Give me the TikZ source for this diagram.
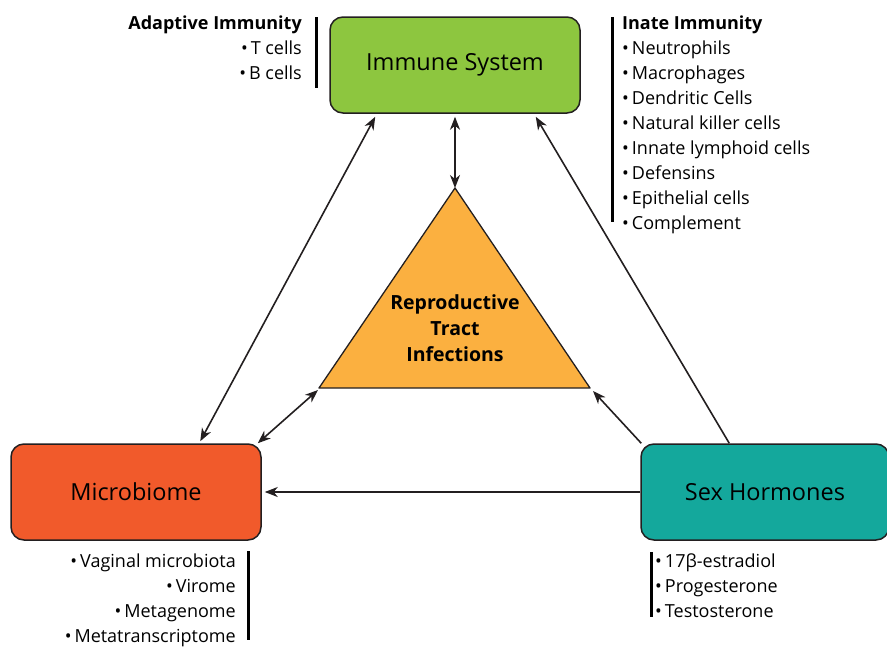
\documentclass[tikz,border=0pt]{standalone}
\usepackage{fontspec}
\setmainfont{Open Sans}
\usetikzlibrary{arrows.meta,calc}
\definecolor{immgreen}{HTML}{8DC63F}
\definecolor{microred}{HTML}{F15A2B}
\definecolor{hormteal}{HTML}{14A89C}
\definecolor{trior}{HTML}{FBB040}
\definecolor{edge}{HTML}{231F20}
\tikzset{
  mainbox/.style={draw=edge, line width=1.5pt, rounded corners=13pt, minimum width=250pt, minimum height=96pt, inner sep=0pt, font=\fontsize{23.5}{28}\selectfont},
  conn/.style={draw=edge, line width=1.6pt},
  tip/.style={-{Stealth[length=13pt,width=10pt,inset=4pt]}},
  bothtip/.style={{Stealth[length=13pt,width=10pt,inset=4pt]}-{Stealth[length=13pt,width=10pt,inset=4pt]}},
  listtext/.style={inner sep=0pt, font=\fontsize{18}{25}\selectfont},
  bar/.style={draw=black, line width=3pt}
}
\newcommand{\bul}{•\,}
\begin{document}
\begin{tikzpicture}[x=1pt,y=-1pt]
\useasboundingbox (0,0) rectangle (887,646);
% boxes
\node[mainbox, fill=immgreen] (imm) at (455,65) {Immune System};
\node[mainbox, fill=microred] (mic) at (136,492) {Microbiome};
\node[mainbox, fill=hormteal, minimum width=248pt] (hor) at (765,492) {Sex Hormones};
% triangle
\coordinate (tA) at (455,188);
\coordinate (tL) at (319,388);
\coordinate (tR) at (590,388);
\draw[draw=edge, line width=1.3pt, fill=trior, line join=round] (tA) -- (tL) -- (tR) -- cycle;
\node[inner sep=0pt, align=center, font=\fontsize{19.5}{26}\selectfont\bfseries] (rti) at (455,328) {Reproductive\\Tract\\Infections};
% connectors
\coordinate (immA) at ($(imm.south west)+(46,3)$);
\coordinate (micA) at ($(mic.north west)+(190,-2)$);
\draw[conn, bothtip] (immA) -- (micA);
\coordinate (immB) at ($(imm.south)+(0,3)$);
\draw[conn, bothtip] (immB) -- (tA);
\coordinate (micB) at ($(mic.north east)+(-4,0)$);
\coordinate (tLb) at ($(tL)+(-1,2)$);
\draw[conn, bothtip] (micB) -- (tLb);
\coordinate (horA) at ($(hor.north west)+(1,0)$);
\coordinate (tRb) at ($(tR)+(3,3)$);
\draw[conn, tip] (horA) -- (tRb);
\coordinate (horB) at ($(hor.north west)+(89,0)$);
\coordinate (immC) at ($(imm.south east)+(-45,3)$);
\draw[conn, tip] (horB) -- (immC);
\coordinate (micC) at ($(mic.east)+(3,0)$);
\draw[conn, tip] (hor.west) -- (micC);
% lists
\node[listtext, anchor=north east, align=right] (adap) at (302,16) {\textbf{Adaptive Immunity}\\\bul T cells\\\bul B cells};
\draw[bar] (316,17) -- (316,88);
\node[listtext, anchor=north west, align=left] (inate) at (622,16) {\textbf{Inate Immunity}\\\bul Neutrophils\\\bul Macrophages\\\bul Dendritic Cells\\\bul Natural killer cells\\\bul Innate lymphoid cells\\\bul Defensins\\\bul Epithelial cells\\\bul Complement};
\draw[bar] (612,17) -- (612,222);
\node[listtext, anchor=north east, align=right] (mlist) at (236,554) {\bul Vaginal microbiota\\\bul Virome\\\bul Metagenome\\\bul Metatranscriptome};
\draw[bar] (248,551) -- (248,640);
\node[listtext, anchor=north west, align=left] (hlist) at (655,554) {\bul 17β-estradiol\\\bul Progesterone\\\bul Testosterone};
\draw[bar] (651,552) -- (651,617);
\end{tikzpicture}
\end{document}
